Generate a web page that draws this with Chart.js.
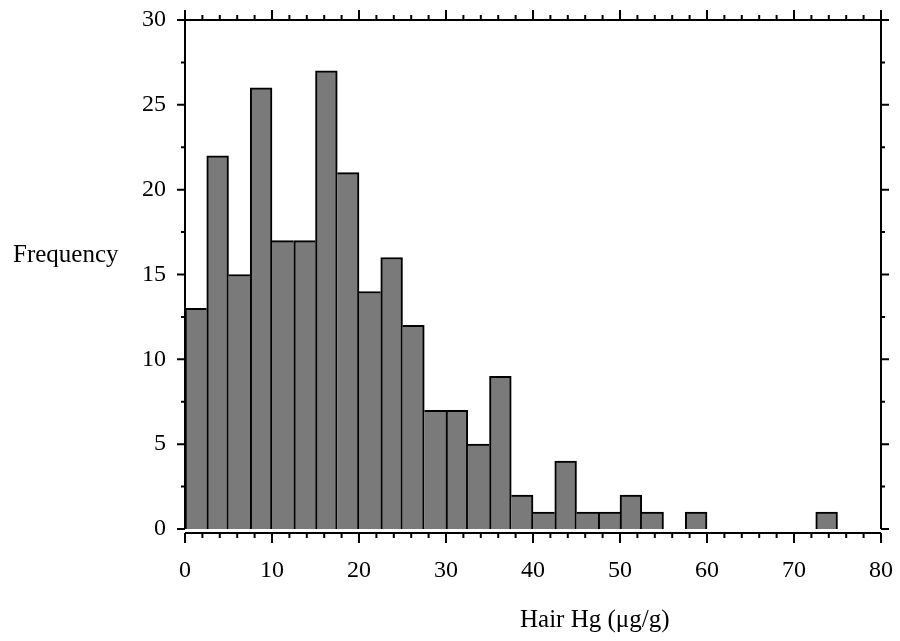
<!DOCTYPE html>
<html>
<head>
<meta charset="utf-8">
<script src="https://cdn.jsdelivr.net/npm/chart.js@4"></script>
<style>
  body { margin: 0; background: #fff; }
  #wrap { width: 900px; height: 641px; }
</style>
</head>
<body>
<div id="wrap"><canvas id="histChart"></canvas></div>
<script>
// ヒストグラムのビン (幅 2.5)
const binLabels = ['0-2.5', '2.5-5', '5-7.5', '7.5-10', '10-12.5', '12.5-15', '15-17.5', '17.5-20',
  '20-22.5', '22.5-25', '25-27.5', '27.5-30', '30-32.5', '32.5-35', '35-37.5', '37.5-40',
  '40-42.5', '42.5-45', '45-47.5', '47.5-50', '50-52.5', '52.5-55', '55-57.5', '57.5-60',
  '60-62.5', '62.5-65', '65-67.5', '67.5-70', '70-72.5', '72.5-75', '75-77.5', '77.5-80'];
const counts = [13, 22, 15, 26, 17, 17, 27, 21, 14, 16, 12, 7, 7, 5, 9, 2,
  1, 4, 1, 1, 2, 1, 0, 1, 0, 0, 0, 0, 0, 1, 0, 0];

const xTickValues = [0, 10, 20, 30, 40, 50, 60, 70, 80];
const yTickValues = [0, 5, 10, 15, 20, 25, 30];
const xLabel = 'Hair Hg (μg/g)';
const yLabel = 'Frequency';

const FONT = 'Liberation Serif';

// 隣より高い方のバーだけが境界線を描く
function barBorder(c) {
  const i = c.dataIndex;
  const v = counts[i] || 0;
  const prev = i > 0 ? counts[i - 1] : 0;
  const next = i < counts.length - 1 ? counts[i + 1] : 0;
  return {
    top: 2,
    bottom: 0,
    left: prev <= v ? 2 : 0,
    right: next < v ? 2 : 0
  };
}

// ラベルのはみ出し分の余白を消す
function fixPadding(s) {
  s.paddingTop = 0;
  s.paddingBottom = 0;
  s.paddingLeft = 0;
  s.paddingRight = 0;
}

// 軸線と目盛り、軸タイトル
const framePlugin = {
  id: 'frame',
  afterDatasetsDraw(chart) {
    const ctx = chart.ctx;
    const a = chart.chartArea;
    const xs = chart.scales.xTicks;
    const ys = chart.scales.y;
    const xAxisY = a.bottom + 4;

    ctx.save();
    ctx.strokeStyle = '#000';
    ctx.lineWidth = 2;
    ctx.beginPath();
    // 左右の縦軸
    ctx.moveTo(a.left, a.top); ctx.lineTo(a.left, a.bottom);
    ctx.moveTo(a.right, a.top); ctx.lineTo(a.right, a.bottom);
    // 上と下の横軸
    ctx.moveTo(a.left, a.top); ctx.lineTo(a.right, a.top);
    ctx.moveTo(a.left, xAxisY); ctx.lineTo(a.right, xAxisY);

    // x 目盛り (2 ごと、10 ごとに長く)
    for (let v = 0; v <= 80; v += 2) {
      const px = xs.getPixelForValue(v);
      const len = v % 10 === 0 ? 10 : 5;
      ctx.moveTo(px, a.top); ctx.lineTo(px, a.top - len);
      ctx.moveTo(px, xAxisY); ctx.lineTo(px, xAxisY + len);
    }
    // y 目盛り (2.5 ごと、5 ごとに長く)
    for (let v = 0; v <= 30; v += 2.5) {
      const py = ys.getPixelForValue(v);
      const len = v % 5 === 0 ? 8 : 4;
      ctx.moveTo(a.left, py); ctx.lineTo(a.left - len, py);
      ctx.moveTo(a.right, py); ctx.lineTo(a.right + len, py);
    }
    ctx.stroke();

    ctx.fillStyle = '#000';
    ctx.font = `25px "${FONT}"`;
    ctx.textAlign = 'left';
    ctx.textBaseline = 'alphabetic';
    ctx.fillText(yLabel, 13, 262);
    ctx.fillText(xLabel, 520, 627);
    ctx.restore();
  }
};

const ctx = document.getElementById('histChart').getContext('2d');
new Chart(ctx, {
  type: 'bar',
  data: {
    labels: binLabels,
    datasets: [{
      data: counts.map(c => (c === 0 ? null : c)),
      backgroundColor: '#7a7a7a',
      borderColor: '#000',
      borderWidth: barBorder,
      borderSkipped: false,
      barPercentage: 1,
      categoryPercentage: 1,
      xAxisID: 'x',
      yAxisID: 'y'
    }]
  },
  options: {
    responsive: true,
    maintainAspectRatio: false,
    animation: false,
    layout: { padding: 0 },
    plugins: {
      legend: { display: false },
      tooltip: { enabled: false }
    },
    scales: {
      x: {
        type: 'category',
        display: false,
        offset: true
      },
      xTicks: {
        type: 'linear',
        position: 'bottom',
        offset: false,
        min: 0,
        max: 80,
        afterBuildTicks: s => { s.ticks = xTickValues.map(v => ({ value: v })); },
        grid: { display: false, drawTicks: false, offset: false },
        border: { display: false },
        ticks: {
          color: '#000',
          padding: 27,
          maxRotation: 0,
          font: { family: FONT, size: 24 }
        },
        afterFit: s => { s.height = 112; fixPadding(s); }
      },
      xTop: {
        type: 'linear',
        position: 'top',
        offset: false,
        min: 0,
        max: 80,
        grid: { display: false, drawTicks: false, offset: false },
        border: { display: false },
        ticks: { display: false },
        afterFit: s => { s.height = 20; fixPadding(s); }
      },
      y: {
        type: 'linear',
        position: 'left',
        min: 0,
        max: 30,
        afterBuildTicks: s => { s.ticks = yTickValues.map(v => ({ value: v })); },
        grid: { display: false, drawTicks: false },
        border: { display: false },
        ticks: {
          color: '#000',
          padding: 19,
          font: { family: FONT, size: 24 }
        },
        afterFit: s => { s.width = 185; fixPadding(s); }
      },
      yRight: {
        type: 'linear',
        position: 'right',
        min: 0,
        max: 30,
        grid: { display: false, drawTicks: false },
        border: { display: false },
        ticks: { display: false },
        afterFit: s => { s.width = 19; fixPadding(s); }
      }
    }
  },
  plugins: [framePlugin]
});
</script>
</body>
</html>
